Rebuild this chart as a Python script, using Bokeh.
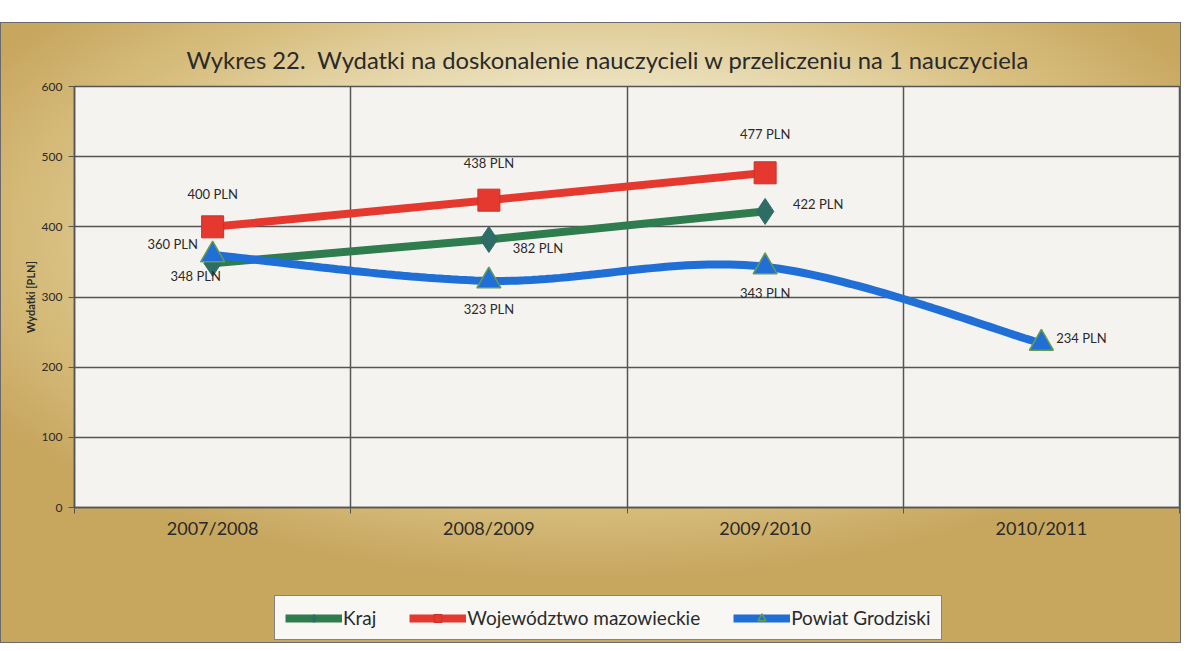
import numpy as np
from bokeh.plotting import figure
from bokeh.models import FixedTicker, Legend, LegendItem, Spacer
from bokeh.layouts import column
from bokeh.core.properties import value
from bokeh.embed import file_html
from bokeh.resources import INLINE

# ---- data ----
categories = ["2007/2008", "2008/2009", "2009/2010", "2010/2011"]
kraj = [348, 382, 422]
wojewodztwo = [400, 438, 477]
powiat = [360, 323, 343, 234]
series_names = ["Kraj", "Województwo mazowieckie", "Powiat Grodziski"]
y_ticks = [0, 100, 200, 300, 400, 500, 600]
title_text = "Wykres 22.\u00a0 Wydatki na doskonalenie nauczycieli w przeliczeniu na 1 nauczyciela"
y_label = "Wydatki [PLN]"
unit = "PLN"

# ---- style ----
FONT = "Lato"
GREEN = "#2f7d4f"
RED = "#e5392f"
BLUE = "#1f6fd6"
GRID = "#555555"
TEXT = "#2a2a2a"

# label offsets (screen px) per point
kraj_off = [(-17, 13), (49, 9), (53, -7)]
woj_off = [(0, -33), (0, -37), (0, -39)]
pow_off = [(-40, -11), (0, 28), (0, 26), (40, -5)]

xc = np.arange(len(categories)) + 0.5


def smooth(xs, ys, n=40):
    P = np.column_stack([xs, ys]).astype(float)
    E = np.vstack([P[0], P, P[-1]])
    out = []
    for i in range(len(P) - 1):
        p0, p1, p2, p3 = E[i], E[i + 1], E[i + 2], E[i + 3]
        c1 = p1 + (p2 - p0) / 6
        c2 = p2 - (p3 - p1) / 6
        t = np.linspace(0, 1, n)[:, None]
        seg = (1 - t) ** 3 * p1 + 3 * (1 - t) ** 2 * t * c1 + 3 * (1 - t) * t ** 2 * c2 + t ** 3 * p2
        out.append(seg if i == 0 else seg[1:])
    return np.vstack(out)


W = 1181
p = figure(width=W, height=570, x_range=(0, len(categories)), y_range=(0, 600),
           output_backend="svg", toolbar_location=None,
           min_border_left=74, min_border_right=2, min_border_top=64, min_border_bottom=85)
p.border_fill_alpha = 0
p.background_fill_color = "#f5f3ef"
p.outline_line_color = GRID
p.outline_line_width = 1.5

p.title.text = title_text
p.title.align = "left"
p.title.offset = 112
p.title.text_font = FONT
p.title.text_font_size = "23.8px"
p.title.text_font_style = "normal"
p.title.text_color = TEXT
p.title.standoff = 26

# x axis
p.xaxis.ticker = FixedTicker(ticks=list(xc), minor_ticks=list(range(len(categories) + 1)))
p.xaxis.major_label_overrides = {float(x): c for x, c in zip(xc, categories)}
p.xaxis.major_tick_out = 0
p.xaxis.major_tick_in = 0
p.xaxis.minor_tick_out = 6
p.xaxis.minor_tick_in = 0
p.xaxis.minor_tick_line_color = GRID
p.xaxis.axis_line_color = GRID
p.xaxis.axis_line_width = 1.5
p.xaxis.major_label_text_font = FONT
p.xaxis.major_label_text_font_size = "18px"
p.xaxis.major_label_text_color = TEXT
p.xaxis.major_label_standoff = 3

# y axis
p.yaxis.ticker = FixedTicker(ticks=y_ticks)
p.yaxis.minor_tick_line_color = None
p.yaxis.major_tick_out = 6
p.yaxis.major_tick_in = 0
p.yaxis.major_tick_line_color = GRID
p.yaxis.axis_line_color = GRID
p.yaxis.axis_line_width = 1.5
p.yaxis.major_label_text_font = FONT
p.yaxis.major_label_text_font_size = "12px"
p.yaxis.major_label_text_color = TEXT
p.yaxis.major_label_standoff = 6
p.yaxis.axis_label = y_label
p.yaxis.axis_label_text_font = FONT
p.yaxis.axis_label_text_font_size = "11px"
p.yaxis.axis_label_text_font_style = "bold"
p.yaxis.axis_label_text_color = TEXT
p.yaxis.axis_label_standoff = 2

# grid
p.xgrid.ticker = FixedTicker(ticks=list(range(1, len(categories))))
p.ygrid.ticker = FixedTicker(ticks=y_ticks)
for g in (p.xgrid, p.ygrid):
    g.grid_line_color = GRID
    g.grid_line_width = 1.5

# series
xk = xc[:len(kraj)]
xw = xc[:len(wojewodztwo)]
xp = xc[:len(powiat)]

line_styles = [dict(line_width=8, line_color=GREEN),
               dict(line_width=8, line_color=RED),
               dict(line_width=8, line_color=BLUE)]
marker_styles = [dict(marker="diamond", size=26, fill_color="#2e6d66", line_color="#2e6d66"),
                 dict(marker="square", size=22, fill_color=RED, line_color="#c9302a"),
                 dict(marker="triangle", size=24, fill_color=BLUE, line_color="#6a9a4e", line_width=1.5)]

curve = smooth(xp, powiat)
series_xy = [(xk, kraj), (xw, wojewodztwo), (xp, powiat)]
line_xy = [(xk, kraj), (xw, wojewodztwo), (curve[:, 0], curve[:, 1])]

for (lx, ly), ls in zip(line_xy, line_styles):
    p.line(lx, ly, **ls)
for (sx, sy), ms in zip(series_xy, marker_styles):
    p.scatter(sx, sy, **ms)

for (xs, vals), offs in zip(series_xy, (kraj_off, woj_off, pow_off)):
    p.text(x=list(xs), y=vals, text=[f"{v} {unit}" for v in vals],
           x_offset=[o[0] for o in offs], y_offset=[o[1] for o in offs],
           text_align="center", text_baseline="middle",
           text_font=value(FONT), text_font_size="13px", text_color=TEXT)

# ---- legend strip (separate figure, same background) ----
pl = figure(width=W, height=51, x_range=(0, 1), y_range=(0, 1),
            output_backend="svg", toolbar_location=None,
            min_border_left=0, min_border_right=0, min_border_top=0, min_border_bottom=0)
pl.axis.visible = False
pl.grid.visible = False
pl.outline_line_color = None
pl.border_fill_alpha = 0
pl.background_fill_alpha = 0
items = []
for name, (lx, ly), (sx, sy), ls, ms in zip(series_names, line_xy, series_xy, line_styles, marker_styles):
    # same data as the chart; outside this strip's ranges, so only the legend swatches show
    rl = pl.line(lx, ly, **ls)
    rm = pl.scatter(sx, sy, **{k: v for k, v in ms.items() if k != "size"}, size=10)
    items.append(LegendItem(label=name, renderers=[rl, rm]))

legend = Legend(items=items, orientation="horizontal", location=(200, 3))
legend.label_text_font = FONT
legend.label_text_font_size = "19px"
legend.label_text_color = TEXT
legend.glyph_width = 57
legend.glyph_height = 20
legend.label_standoff = 1
legend.spacing = 33
legend.padding = 10
legend.margin = 0
legend.border_line_color = "#111111"
legend.border_line_width = 1.5
legend.background_fill_color = "#f8f7f3"
legend.background_fill_alpha = 1
pl.add_layout(legend, "center")

chart = column(p, pl, spacing=0)
chart.styles = {
    "background": "radial-gradient(ellipse 60% 55% at 50% 35%, #f6f2e2 0%, #ece2bf 45%, #d8bf80 75%, #c7a65e 100%)",
    "box-shadow": "inset 0 0 0 1px #6a6a6a",
}
layout = column(Spacer(height=22), chart, spacing=0)
open("out.html", "w").write(file_html(layout, INLINE))
